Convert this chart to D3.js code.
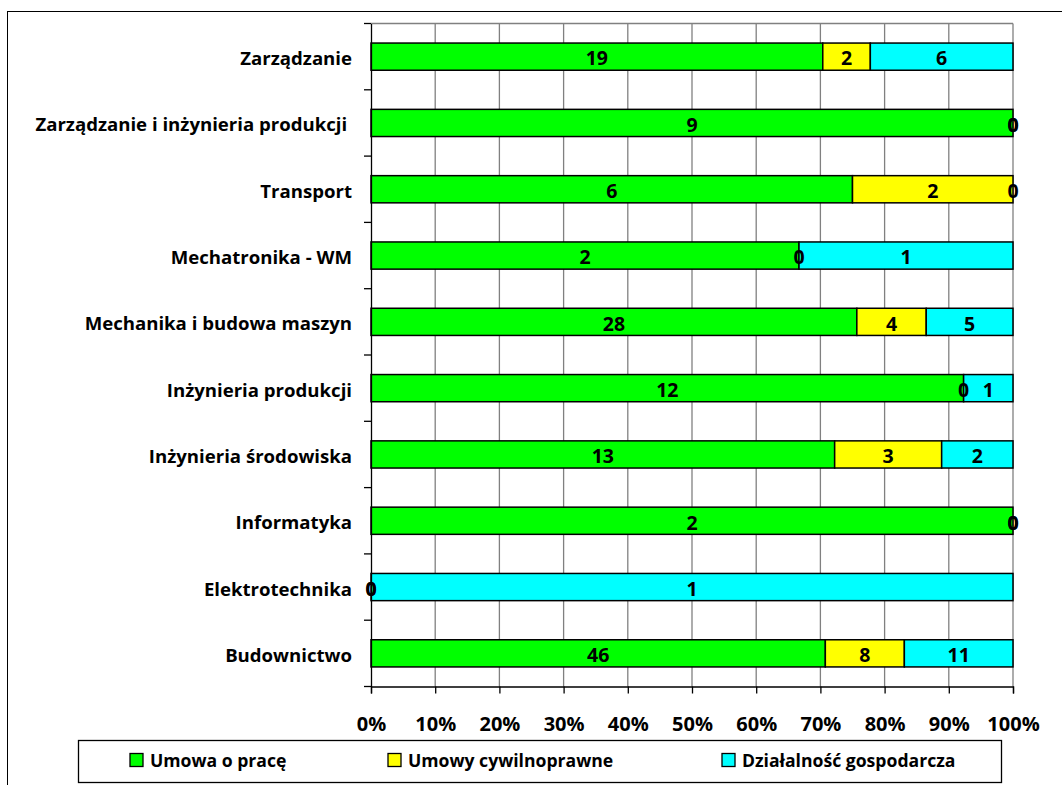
<!DOCTYPE html>
<html><head><meta charset="utf-8">
<script src="https://cdn.jsdelivr.net/npm/d3@7"></script>
<style>body{margin:0;background:#fff}svg{display:block}text{font-family:"Open Sans",Lato,sans-serif;font-weight:bold;fill:#000;white-space:pre}</style>
</head><body><div id="chart"></div>
<script>
const categories = ["Zarządzanie","Zarządzanie i inżynieria produkcji ","Transport","Mechatronika - WM","Mechanika i budowa maszyn","Inżynieria produkcji","Inżynieria środowiska","Informatyka","Elektrotechnika","Budownictwo"];
const seriesNames = ["Umowa o pracę","Umowy cywilnoprawne","Działalność gospodarcza"];
const umowaOPrace = [19,9,6,2,28,12,13,2,0,46];
const umowyCywilnoprawne = [2,0,2,0,4,0,3,0,0,8];
const dzialalnosc = [6,0,0,1,5,1,2,0,1,11];
const colors = ["#00FF00","#FFFF00","#00FFFF"];
const xTicks = [0,0.1,0.2,0.3,0.4,0.5,0.6,0.7,0.8,0.9,1];

const W=1062,H=785;
const svg=d3.select("#chart").append("svg").attr("width",W).attr("height",H);
svg.append("rect").attr("x",7.5).attr("y",11.5).attr("width",W).attr("height",H).attr("fill","none").attr("stroke","#000").attr("stroke-width",1);

const m={left:371,right:1013,top:23.5,bottom:686.5};
const x=d3.scaleLinear().domain([0,1]).range([m.left,m.right]);
const y=d3.scaleBand().domain(categories).range([m.top,m.bottom]).paddingInner(0.59).paddingOuter(0.295);
const cy=c=>y(c)+y.bandwidth()/2;

// gridlines
svg.append("g").selectAll("line").data(xTicks.slice(1)).join("line")
 .attr("x1",d=>x(d)).attr("x2",d=>x(d)).attr("y1",m.top).attr("y2",m.bottom)
 .attr("stroke","#808080").attr("stroke-width",1.3);
svg.append("line").attr("x1",m.left).attr("x2",m.right).attr("y1",m.top).attr("y2",m.top).attr("stroke","#808080").attr("stroke-width",1.3);

const data=categories.map((c,i)=>{
  const vals=[umowaOPrace[i],umowyCywilnoprawne[i],dzialalnosc[i]];
  const tot=d3.sum(vals);let acc=0;
  return vals.map((v,k)=>{const s={cat:c,k,v,x0:acc/tot,x1:(acc+v)/tot};acc+=v;return s;});
});
const segs=data.flat();
svg.append("g").selectAll("rect").data(segs.filter(d=>d.v>0)).join("rect")
 .attr("x",d=>x(d.x0)).attr("width",d=>x(d.x1)-x(d.x0))
 .attr("y",d=>y(d.cat)).attr("height",y.bandwidth())
 .attr("fill",d=>colors[d.k]).attr("stroke","#000").attr("stroke-width",1.5);

svg.append("g").selectAll("text").data(segs).join("text")
 .attr("x",d=>x((d.x0+d.x1)/2)).attr("y",d=>cy(d.cat)+8.8)
 .attr("text-anchor","middle")
 .style("font-size","19.5px").text(d=>d.v);

// axes
const gx=svg.append("g").attr("transform",`translate(0,${m.bottom})`)
 .call(d3.axisBottom(x).tickValues(xTicks).tickFormat(d3.format(".0%")).tickSize(7));
gx.select(".domain").attr("stroke","#000").attr("stroke-width",1.3);
gx.selectAll(".tick line").attr("stroke","#000").attr("stroke-width",1.3);
gx.selectAll("text").attr("y",44.5).attr("dy",null).style("font-size","20px");

const gy=svg.append("g").attr("transform",`translate(${m.left},0)`)
 .call(d3.axisLeft(y).tickSize(0).tickPadding(19));
gy.select(".domain").attr("stroke","#000").attr("stroke-width",1.3);
gy.selectAll("text").attr("dy",null).attr("y",8.5).style("font-size","18.6px");
// category boundary ticks
const step=y.step();
svg.append("g").selectAll("line").data(d3.range(categories.length+1)).join("line")
 .attr("x1",m.left-7).attr("x2",m.left).attr("y1",i=>m.top+i*step).attr("y2",i=>m.top+i*step)
 .attr("stroke","#000").attr("stroke-width",1.3);

// legend
const lg=svg.append("g");
lg.append("rect").attr("x",78.5).attr("y",740.5).attr("width",923).attr("height",42).attr("fill","#fff").attr("stroke","#000").attr("stroke-width",1.3);
const lx=[130,388,722];
seriesNames.forEach((n,i)=>{
  lg.append("rect").attr("x",lx[i]).attr("y",753.5).attr("width",13).attr("height",13).attr("fill",colors[i]).attr("stroke","#000").attr("stroke-width",1.3);
  lg.append("text").attr("x",lx[i]+20).attr("y",767).style("font-size","17.6px").text(n);
});
</script></body></html>
